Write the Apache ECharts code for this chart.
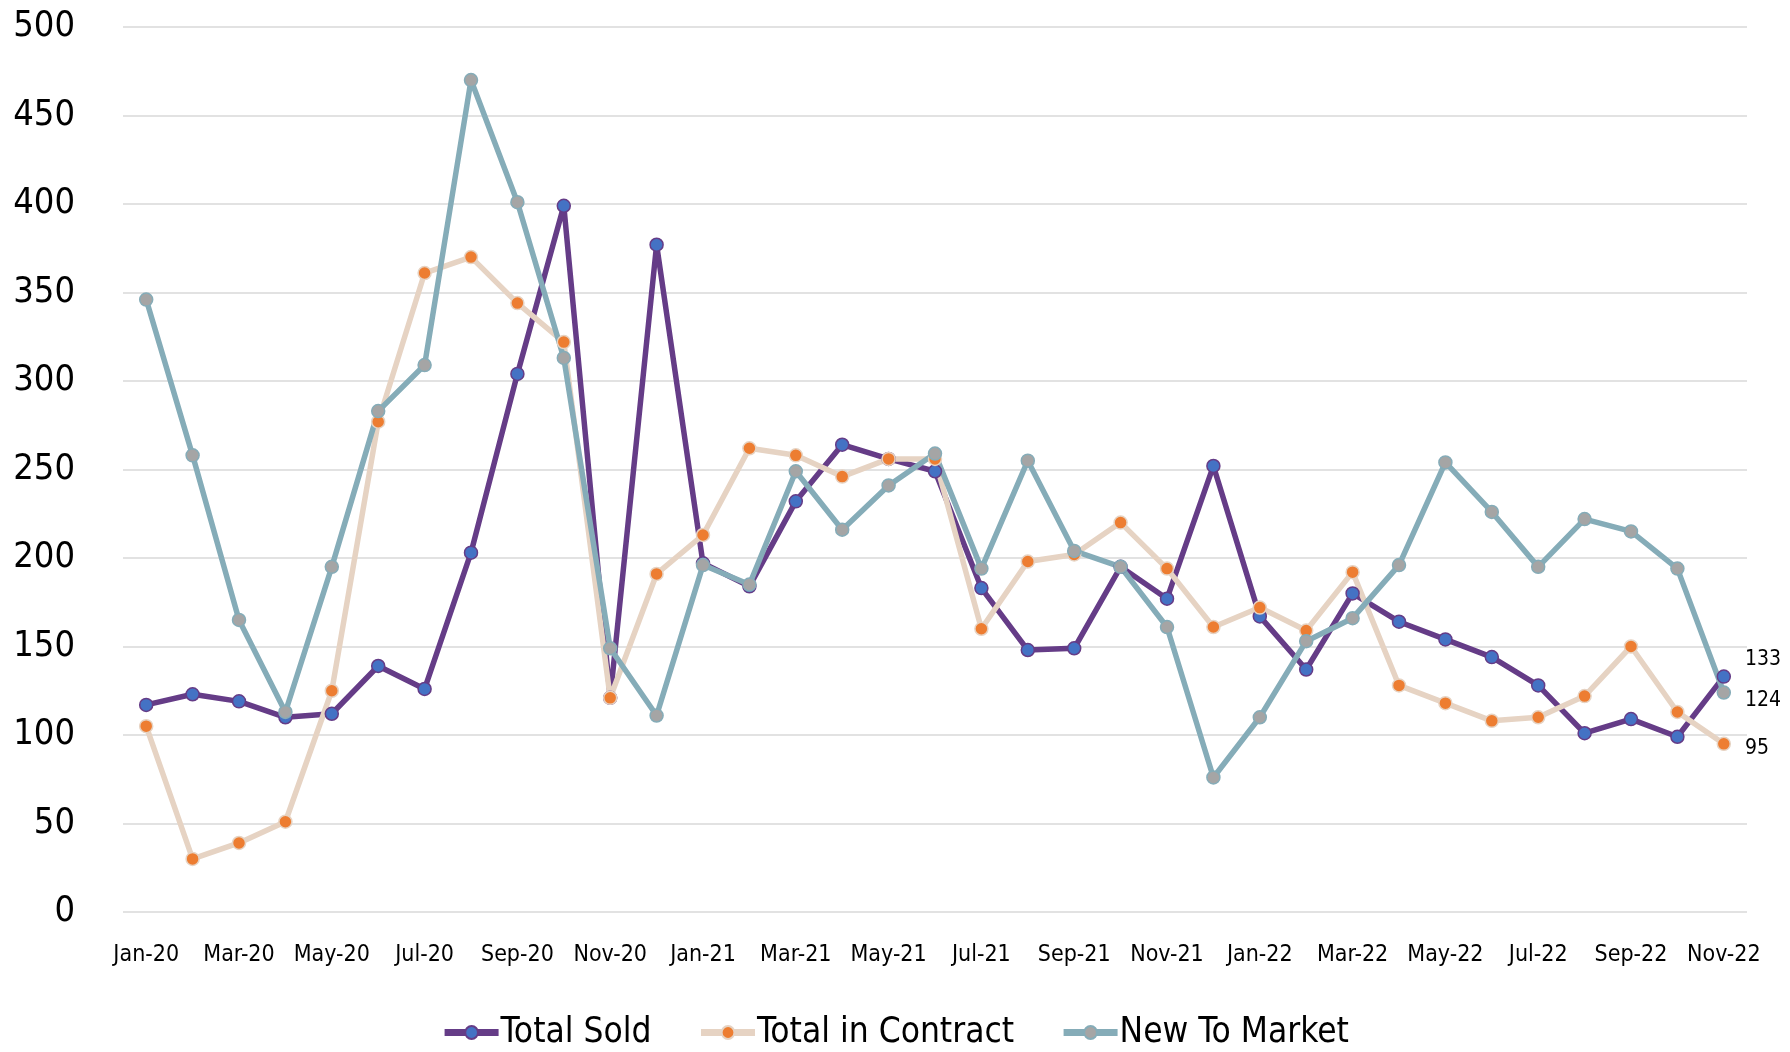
<!DOCTYPE html>
<html>
<head>
<meta charset="utf-8">
<script src="https://cdn.jsdelivr.net/npm/echarts@6/dist/echarts.min.js"></script>
<style>
  html, body { margin: 0; padding: 0; background: #ffffff; }
  #chart { width: 1790px; height: 1052px; }
</style>
</head>
<body>
<div id="chart"></div>
<script>
  // month labels
  let months = ['Jan-20', 'Feb-20', 'Mar-20', 'Apr-20', 'May-20', 'Jun-20', 'Jul-20', 'Aug-20', 'Sep-20', 'Oct-20', 'Nov-20', 'Dec-20',
    'Jan-21', 'Feb-21', 'Mar-21', 'Apr-21', 'May-21', 'Jun-21', 'Jul-21', 'Aug-21', 'Sep-21', 'Oct-21', 'Nov-21', 'Dec-21',
    'Jan-22', 'Feb-22', 'Mar-22', 'Apr-22', 'May-22', 'Jun-22', 'Jul-22', 'Aug-22', 'Sep-22', 'Oct-22', 'Nov-22'];

  let totalSold = [117, 123, 119, 110, 112, 139, 126, 203, 304, 399, 121, 377,
    197, 184, 232, 264, 256, 249, 183, 148, 149, 195, 177, 252,
    167, 137, 180, 164, 154, 144, 128, 101, 109, 99, 133];

  let totalInContract = [105, 30, 39, 51, 125, 277, 361, 370, 344, 322, 121, 191,
    213, 262, 258, 246, 256, 256, 160, 198, 202, 220, 194, 161,
    172, 159, 192, 128, 118, 108, 110, 122, 150, 113, 95];

  let newToMarket = [346, 258, 165, 113, 195, 283, 309, 470, 401, 313, 149, 111,
    196, 185, 249, 216, 241, 259, 194, 255, 204, 195, 161, 76,
    110, 153, 166, 196, 254, 226, 195, 222, 215, 194, 124];

  let fontName = "'DejaVu Sans Condensed', 'DejaVu Sans', sans-serif";

  // only the last point gets a value label
  function withEndLabel(values, offsetY) {
    return values.map(function (v, i) {
      if (i !== values.length - 1) return v;
      return {
        value: v,
        label: {
          show: true,
          position: 'right',
          distance: 14,
          offset: [0, offsetY],
          color: '#000000',
          fontSize: 21,
          fontFamily: fontName
        }
      };
    });
  }

  let lineSeries = [
    {name: 'Total Sold', data: withEndLabel(totalSold, -17), line: '#653C87', fill: '#4472C4', border: '#653C87'},
    {name: 'Total in Contract', data: withEndLabel(totalInContract, 5), line: '#E6D3C3', fill: '#ED7D31', border: '#E6D3C3'},
    {name: 'New To Market', data: withEndLabel(newToMarket, 8), line: '#85ACB8', fill: '#A5A5A5', border: '#85ACB8'}
  ].map(function (s) {
    return {
      name: s.name,
      type: 'line',
      data: s.data,
      symbol: 'circle',
      symbolSize: 13,
      showAllSymbol: true,
      lineStyle: {color: s.line, width: 5.5},
      itemStyle: {color: s.fill, borderColor: s.border, borderWidth: 1.5},
      emphasis: {disabled: true}
    };
  });

  let chart = echarts.init(document.getElementById('chart'));
  chart.setOption({
    animation: false,
    backgroundColor: '#ffffff',
    grid: {
      left: 123,
      right: 43,
      top: 27,
      bottom: 140
    },
    legend: {
      data: ['Total Sold', 'Total in Contract', 'New To Market'],
      left: 'center',
      top: 1010,
      itemWidth: 54,
      itemHeight: 16,
      itemGap: 46,
      lineStyle: {width: 7},
      textStyle: {
        fontSize: 35,
        color: '#000000',
        fontFamily: fontName,
        padding: [0, 0, 0, -3]
      }
    },
    xAxis: {
      type: 'category',
      data: months,
      boundaryGap: true,
      axisLine: {show: false},
      axisTick: {show: false},
      axisLabel: {
        interval: 1,
        margin: 32,
        fontSize: 23,
        color: '#000000',
        fontFamily: fontName
      }
    },
    yAxis: {
      type: 'value',
      min: 0,
      max: 500,
      interval: 50,
      axisLine: {show: false},
      axisTick: {show: false},
      axisLabel: {
        margin: 48,
        fontSize: 36,
        color: '#000000',
        fontFamily: fontName
      },
      splitLine: {
        lineStyle: {color: '#d9d9d9', width: 1.5}
      }
    },
    series: lineSeries
  });
</script>
</body>
</html>
